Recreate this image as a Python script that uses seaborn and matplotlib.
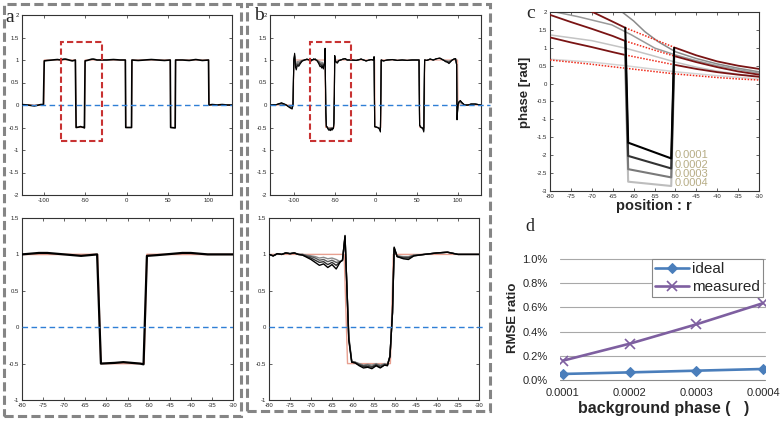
import matplotlib
matplotlib.use("Agg")
import matplotlib.pyplot as plt
from matplotlib.patches import Rectangle
import numpy as np
import pandas as pd
import seaborn as sns

# ---------------- data ----------------
# ideal (reference) step profile shared by panels a and b
ideal_x = [-128, -100.5, -100, -62.1, -61.3, -51.1, -50.4, -1.5, -1, 6, 6.5, 53, 53.5, 59, 59.5, 99.5, 100, 128]
ideal_y = [0, 0, 1, 1, -0.5, -0.5, 1, 1, -0.5, -0.5, 1, 1, -0.5, -0.5, 1, 1, 0, 0]

# panel a: reconstructed profile
a_x = [-128, -120, -112, -104, -101, -100, -96, -90, -84, -80,
       -78, -76, -74, -72, -70, -68, -66, -64, -62.2, -61.3,
       -58, -56, -54, -52, -51.2, -50.4, -48, -46, -44, -42,
       -40, -38, -36, -34, -32, -30, -24, -16, -8, -1.5,
       -1, 6, 6.5, 14, 22, 30, 38, 46, 53, 53.5,
       59, 59.5, 68, 76, 84, 92, 99.5, 100, 104, 110,
       116, 122, 128]
a_y = [0.01, 0.0, -0.02, 0.01, 0.01, 0.98, 0.99, 1.0, 1.01, 1.0,
       1.01, 1.02, 1.02, 1.01, 1.0, 0.99, 0.98, 0.99, 1.0, -0.5,
       -0.49, -0.48, -0.49, -0.5, -0.51, 0.98, 0.99, 1.0, 1.01, 1.02,
       1.02, 1.01, 1.0, 1.0, 1.0, 1.0, 1.0, 1.01, 1.0, 1.0,
       -0.5, -0.5, 1.0, 0.99, 1.0, 1.01, 1.0, 0.99, 1.0, -0.5,
       -0.51, 1.0, 1.0, 0.99, 1.01, 0.99, 1.0, 0.0, 0.01, 0.0,
       0.01, 0.0, 0.0]

# panel b: four reconstructions (darkest = strongest background phase error)
b_x = [-128, -121, -115, -110, -105, -102, -101, -100, -99, -98,
       -97, -96, -95, -94, -92, -90, -87, -84, -81, -80,
       -79, -78, -77, -76, -75, -74, -73, -72, -71, -70,
       -69, -68, -67, -66, -65, -64, -63, -62.5, -61.9, -61.0,
       -60.3, -59.5, -58.5, -57.5, -56.5, -55.5, -54.5, -53.5, -52.5, -51.8,
       -51.2, -50.6, -50.2, -49.5, -48, -46.8, -45.5, -43, -40, -37.5,
       -35, -30, -24, -18, -12, -6, -3, -2.2, -1.5, 2,
       4, 5.5, 6.5, 9, 14, 20, 26, 32, 38, 44,
       52.5, 53.2, 55, 57, 58.3, 59.3, 62, 66, 70, 74,
       78, 82, 85, 87, 89, 91, 93, 95, 97, 98.3,
       98.8, 100, 101, 102.8, 105, 108, 112, 116, 121, 128]
b_y1 = [0.0, 0.01, 0.05, 0.01, -0.06, -0.09, 0.0, 1.0, 1.15, 0.84,
        0.78, 0.86, 0.88, 0.86, 0.92, 0.97, 1.0, 1.02, 1.0, 1.0,
        0.98, 1.01, 1.0, 1.02, 1.01, 1.02, 1.0, 0.99, 0.96, 0.93,
        0.89, 0.85, 0.87, 0.82, 0.86, 0.80, 0.90, 0.92, 1.26, -0.18,
        -0.48, -0.49, -0.53, -0.56, -0.55, -0.57, -0.53, -0.56, -0.52, -0.53,
        -0.40, 0.20, 1.10, 0.97, 0.94, 0.93, 0.98, 1.0, 1.02, 1.03,
        1.0, 1.0, 0.99, 1.02, 0.98, 1.01, 1.0, 1.07, -0.48, -0.5,
        -0.53, -0.6, 1.0, 0.98, 1.0, 1.01, 0.99, 1.0, 0.99, 1.0,
        1.0, -0.45, -0.5, -0.52, -0.6, 1.0, 0.99, 1.02, 1.0, 1.03,
        1.04, 1.0, 0.96, 0.95, 0.92, 0.96, 1.0, 1.02, 1.03, 0.9,
        -0.33, 0.0, 0.07, 0.1, 0.05, 0.0, 0.0, 0.02, 0.02, 0.0]
b_y2 = [0.0, 0.01, 0.04, 0.01, -0.05, -0.07, 0.0, 1.0, 1.12, 0.88,
        0.84, 0.90, 0.91, 0.90, 0.94, 0.98, 1.0, 1.02, 1.0, 1.0,
        0.98, 1.01, 1.0, 1.02, 1.01, 1.02, 1.0, 0.99, 0.97, 0.95,
        0.92, 0.89, 0.90, 0.86, 0.89, 0.85, 0.90, 0.92, 1.25, -0.16,
        -0.48, -0.49, -0.52, -0.54, -0.54, -0.55, -0.52, -0.55, -0.52, -0.52,
        -0.40, 0.20, 1.09, 0.97, 0.95, 0.95, 0.98, 1.0, 1.02, 1.03,
        1.0, 1.0, 0.99, 1.02, 0.98, 1.01, 1.0, 1.07, -0.48, -0.5,
        -0.52, -0.57, 1.0, 0.98, 1.0, 1.01, 0.99, 1.0, 0.99, 1.0,
        1.0, -0.45, -0.5, -0.51, -0.57, 1.0, 0.99, 1.02, 1.0, 1.03,
        1.04, 1.0, 0.97, 0.96, 0.94, 0.97, 1.0, 1.02, 1.03, 0.9,
        -0.30, 0.0, 0.06, 0.09, 0.05, 0.0, 0.0, 0.02, 0.02, 0.0]
b_y3 = [0.0, 0.01, 0.03, 0.0, -0.04, -0.05, 0.0, 1.0, 1.09, 0.92,
        0.90, 0.93, 0.94, 0.93, 0.96, 0.99, 1.0, 1.01, 1.0, 1.0,
        0.98, 1.01, 1.0, 1.02, 1.01, 1.02, 1.0, 1.0, 0.98, 0.97,
        0.95, 0.92, 0.93, 0.90, 0.92, 0.89, 0.90, 0.92, 1.24, -0.14,
        -0.47, -0.48, -0.51, -0.53, -0.52, -0.54, -0.51, -0.53, -0.51, -0.52,
        -0.40, 0.20, 1.08, 0.98, 0.96, 0.96, 0.99, 1.0, 1.02, 1.03,
        1.0, 1.0, 0.99, 1.02, 0.98, 1.01, 1.0, 1.07, -0.48, -0.5,
        -0.51, -0.54, 1.0, 0.98, 1.0, 1.01, 0.99, 1.0, 0.99, 1.0,
        1.0, -0.45, -0.5, -0.51, -0.54, 1.0, 0.99, 1.02, 1.0, 1.03,
        1.04, 1.0, 0.98, 0.97, 0.96, 0.98, 1.0, 1.02, 1.03, 0.9,
        -0.27, 0.0, 0.05, 0.07, 0.04, 0.0, 0.0, 0.02, 0.02, 0.0]
b_y4 = [0.0, 0.01, 0.02, 0.0, -0.03, -0.03, 0.0, 1.0, 1.06, 0.96,
        0.95, 0.96, 0.97, 0.97, 0.98, 0.99, 1.0, 1.01, 1.0, 1.0,
        0.98, 1.01, 1.0, 1.02, 1.01, 1.02, 1.0, 1.0, 0.99, 0.98,
        0.97, 0.95, 0.96, 0.94, 0.95, 0.93, 0.90, 0.92, 1.23, -0.12,
        -0.47, -0.48, -0.50, -0.52, -0.51, -0.52, -0.50, -0.52, -0.50, -0.51,
        -0.40, 0.20, 1.07, 0.98, 0.97, 0.97, 0.99, 1.0, 1.02, 1.03,
        1.0, 1.0, 0.99, 1.02, 0.98, 1.01, 1.0, 1.07, -0.48, -0.5,
        -0.50, -0.51, 1.0, 0.98, 1.0, 1.01, 0.99, 1.0, 0.99, 1.0,
        1.0, -0.45, -0.5, -0.50, -0.51, 1.0, 0.99, 1.02, 1.0, 1.03,
        1.04, 1.0, 0.99, 0.98, 0.98, 0.99, 1.0, 1.02, 1.03, 0.9,
        -0.24, 0.0, 0.04, 0.05, 0.03, 0.0, 0.0, 0.02, 0.02, 0.0]

# panel c: background phase curves
c_x = [-80, -75, -70, -65, -62, -56, -50, -45, -40, -35, -30]
c_ideal_1 = [2.55, 2.28, 2.01, 1.73, 1.56, 1.28, 1.0, 0.79, 0.62, 0.5, 0.41]
c_ideal_2 = [1.92, 1.72, 1.53, 1.33, 1.19, 0.97, 0.76, 0.6, 0.46, 0.34, 0.25]
c_ideal_3 = [1.29, 1.15, 1.02, 0.88, 0.80, 0.66, 0.52, 0.41, 0.32, 0.25, 0.19]
c_ideal_4 = [0.66, 0.6, 0.54, 0.47, 0.43, 0.35, 0.27, 0.22, 0.17, 0.13, 0.10]
c_g1_x = [-65, -63.3, -60, -57.3, -54.1, -50, -45, -40, -35, -30]
c_g1_y = [2.2, 2.05, 1.75, 1.45, 1.17, 0.89, 0.7, 0.55, 0.43, 0.33]
c_g2_x = [-80, -73.3, -65.2, -60.5, -54.9, -50, -45, -40, -35, -30]
c_g2_y = [2.03, 1.87, 1.64, 1.36, 0.99, 0.8, 0.64, 0.5, 0.39, 0.29]
c_g3_x = [-80, -70, -62, -56, -50, -45, -40, -35, -30]
c_g3_y = [1.36, 1.2, 0.99, 0.8, 0.6, 0.46, 0.35, 0.26, 0.2]
c_g4_x = [-80, -70, -62, -50, -40, -30]
c_g4_y = [0.68, 0.6, 0.5, 0.33, 0.22, 0.13]
c_step_x = [-62, -61.3, -51, -50.3]
c_step_1 = [1.56, -1.65, -2.09, 1.0]
c_step_2 = [1.19, -2.02, -2.37, 0.76]
c_step_3 = [0.80, -2.39, -2.62, 0.52]
c_step_4 = [0.43, -2.74, -2.86, 0.27]
c_labels = ["0.0001", "0.0002", "0.0003", "0.0004"]
c_label_y = [-1.99, -2.26, -2.52, -2.77]

# panel d: RMSE ratio (%)
d_categories = ["0.0001", "0.0002", "0.0003", "0.0004"]
d_ideal = [0.05, 0.063, 0.077, 0.091]
d_measured = [0.16, 0.30, 0.46, 0.635]

for xs, ys in [(a_x, a_y), (ideal_x, ideal_y)] + [(b_x, y) for y in (b_y1, b_y2, b_y3, b_y4)]:
    assert len(xs) == len(ys), (len(xs), len(ys))

# ---------------- style ----------------
sns.set_style("white")
plt.rcParams["font.family"] = ["Liberation Sans", "DejaVu Sans"]
plt.rcParams["axes.unicode_minus"] = False

W, H = 781, 424
fig = plt.figure(figsize=(W / 100, H / 100), dpi=100)


def pax(l, t, r, b):
    return fig.add_axes([l / W, 1 - b / H, (r - l) / W, (b - t) / H])


def matlab(ax, xt, yt, xl, yl):
    ax.set_xlim(xl)
    ax.set_ylim(yl)
    ax.set_xticks(xt)
    ax.set_yticks(yt)
    ax.set_xticklabels([f"{v:g}" for v in xt])
    ax.set_yticklabels([f"{v:g}" for v in yt])
    ax.tick_params(direction="in", length=2.2, width=0.5, top=True, right=True,
                   bottom=True, left=True, labelsize=4.3, pad=2, color="#222222")
    for s in ax.spines.values():
        s.set_visible(True)
        s.set_linewidth(0.8)
        s.set_color("#333333")
    ax.set_xlabel("")
    ax.set_ylabel("")


def line(ax, xs, ys, color, lw, z=3, ls="-"):
    sns.lineplot(x=xs, y=ys, ax=ax, estimator=None, sort=False, color=color,
                 lw=lw, zorder=z, linestyle=ls)


blue = "#2f7fd6"
reddash = "#c83232"
b_colors = ["#8a8a8a", "#5a5a5a", "#2e2e2e", "#000000"]
b_series = [b_y4, b_y3, b_y2, b_y1]

# ---------------- panel a ----------------
ax = pax(22, 15, 232, 195)
line(ax, ideal_x, ideal_y, "#e8a090", 0.8, 2)
line(ax, a_x, a_y, "black", 1.2, 3)
ax.axhline(0, color=blue, lw=1.0, ls=(0, (4, 2.5)), zorder=4)
ax.add_patch(Rectangle((-80, -0.8), 50, 2.2, fill=False, ec=reddash, lw=1.5,
                       ls=(0, (3, 1.5)), zorder=5))
matlab(ax, [-100, -50, 0, 50, 100], np.arange(-2, 2.01, 0.5), (-127, 128), (-2, 2))

ax = pax(22, 218, 233, 400)
line(ax, ideal_x, ideal_y, "#e8a090", 1.2, 2)
line(ax, a_x, a_y, "black", 1.6, 3)
ax.axhline(0, color=blue, lw=1.0, ls=(0, (4, 2.5)), zorder=4)
matlab(ax, np.arange(-80, -29, 5), np.arange(-1, 1.51, 0.5), (-80, -30), (-1, 1.5))

# ---------------- panel b ----------------
ax = pax(270, 15, 481, 195)
line(ax, ideal_x, ideal_y, "#e8a090", 0.8, 2)
for ys, col in zip(b_series, b_colors):
    line(ax, b_x, ys, col, 0.8, 3)
ax.plot([-129, 139], [0, 0], color=blue, lw=1.0, ls=(0, (4, 2.5)), zorder=4, clip_on=False)
ax.add_patch(Rectangle((-80, -0.8), 50, 2.2, fill=False, ec=reddash, lw=1.5,
                       ls=(0, (3, 1.5)), zorder=5))
matlab(ax, [-100, -50, 0, 50, 100], np.arange(-2, 2.01, 0.5), (-129, 128), (-2, 2))

ax = pax(269, 218, 479, 400)
line(ax, ideal_x, ideal_y, "#e8a090", 1.0, 2)
for ys, col in zip(b_series, b_colors):
    line(ax, b_x, ys, col, 1.0, 3)
ax.plot([-80, -28.6], [0, 0], color=blue, lw=1.0, ls=(0, (4, 2.5)), zorder=4, clip_on=False)
matlab(ax, np.arange(-80, -29, 5), np.arange(-1, 1.51, 0.5), (-80, -30), (-1, 1.5))

# ---------------- panel c ----------------
ax = pax(550, 12, 759, 191)
line(ax, c_g4_x, c_g4_y, "#d4d4d4", 1.1, 2)
line(ax, c_g3_x, c_g3_y, "#c4c4c4", 1.1, 2)
line(ax, c_g2_x, c_g2_y, "#9a9a9a", 1.1, 2)
line(ax, c_g1_x, c_g1_y, "#8a8a8a", 1.1, 2)
cx = np.array(c_x)
outside_l = cx <= -62
outside_r = cx >= -50
inside = (cx >= -62) & (cx <= -50)
for yv in (c_ideal_1, c_ideal_2, c_ideal_3):
    yv = np.array(yv)
    line(ax, list(cx[outside_l]), list(yv[outside_l]), "#7a1414", 1.3, 3)
    line(ax, list(cx[outside_r]), list(yv[outside_r]), "#7a1414", 1.3, 3)
    line(ax, list(cx[inside]), list(yv[inside]), "#ee2a1a", 1.1, 3, (0, (1, 1)))
line(ax, c_x, c_ideal_4, "#ee2a1a", 1.1, 3, (0, (1, 1)))
for ys, col in zip([c_step_4, c_step_3, c_step_2, c_step_1],
                   ["#bdbdbd", "#7a7a7a", "#333333", "#000000"]):
    line(ax, c_step_x, ys, col, 1.5, 4)
for lab, yv in zip(c_labels, c_label_y):
    ax.text(-50.1, yv, lab, color="#b7ad86", fontsize=8, ha="left", va="center", zorder=6)
matlab(ax, np.arange(-80, -29, 5), np.arange(-3, 2.01, 0.5), (-80, -30), (-3, 2))
fig.text(525 / W, 1 - 92 / H, "phase [rad]", rotation=90, fontweight="bold",
         fontsize=9.5, ha="center", va="center")
fig.text(654 / W, 1 - 206 / H, "position : r", fontweight="bold",
         fontsize=10.5, ha="center", va="center")

# ---------------- panel d ----------------
ax = pax(560, 259, 765, 380)
d_pos = list(range(len(d_categories)))
for yv in np.arange(0, 1.01, 0.2):
    ax.axhline(yv, color="#a8a8a8" if yv > 0 else "#8c8c8c", lw=0.8, zorder=0, clip_on=False)
sns.lineplot(x=d_pos, y=d_ideal, ax=ax, color="#4A7EBB", lw=1.9, marker="D",
             markersize=5, markeredgecolor="#4A7EBB", label="ideal", zorder=3)
sns.lineplot(x=d_pos, y=d_measured, ax=ax, color="#7E5FA0", lw=1.9, marker="x",
             markersize=7, markeredgewidth=1.2, markeredgecolor="#7E5FA0",
             label="measured", zorder=3)
ax.set_xlim(-0.045, 3.03)
ax.set_ylim(0, 1.0)
ax.set_xticks(d_pos)
ax.set_xticklabels(d_categories)
ax.set_yticks(np.arange(0, 1.01, 0.2))
ax.set_yticklabels([f"{v:.1f}%" for v in np.arange(0, 1.01, 0.2)])
ax.tick_params(length=0, labelsize=8, pad=9)
ax.tick_params(axis="x", pad=6)
for s in ax.spines.values():
    s.set_visible(False)
ax.set_xlabel("")
ax.set_ylabel("")
h, l = ax.get_legend_handles_labels()
leg = ax.legend(h, l, loc="upper left", bbox_to_anchor=(652 / W, 1 - 259 / H),
                bbox_transform=fig.transFigure, fontsize=11, frameon=True,
                fancybox=False, edgecolor="#888888", framealpha=1, borderpad=0.2,
                labelspacing=0.25, handlelength=2.2, handletextpad=0.2, borderaxespad=0)
leg.get_frame().set_linewidth(0.8)
fig.text(513 / W, 1 - 318 / H, "RMSE ratio", rotation=90, fontweight="bold",
         fontsize=9.5, ha="center", va="center")
fig.text(664 / W, 1 - 409 / H, "background phase (   )", fontweight="bold",
         fontsize=11.5, ha="center", va="center")

# ---------------- panel frames and labels ----------------
def fig_box(l, t, r, b):
    fig.add_artist(Rectangle((l / W, 1 - b / H), (r - l) / W, (b - t) / H,
                             transform=fig.transFigure, fill=False, ec="#858585",
                             lw=2.2, ls=(0, (3, 1.4))))

fig_box(3.5, 3.5, 241, 416)
fig_box(246.5, 3.5, 490, 411)

serif = ["Liberation Serif", "DejaVu Serif"]
fig.text(9.5 / W, 1 - 17 / H, "a", family=serif, fontsize=14, ha="center", va="center")
fig.text(258.5 / W, 1 - 15 / H, "b", family=serif, fontsize=14, ha="center", va="center")
fig.text(531 / W, 1 - 14 / H, "c", family=serif, fontsize=14, ha="center", va="center")
fig.text(530 / W, 1 - 227 / H, "d", family=serif, fontsize=13, ha="center", va="center")

fig.savefig("out.png", dpi=100)
